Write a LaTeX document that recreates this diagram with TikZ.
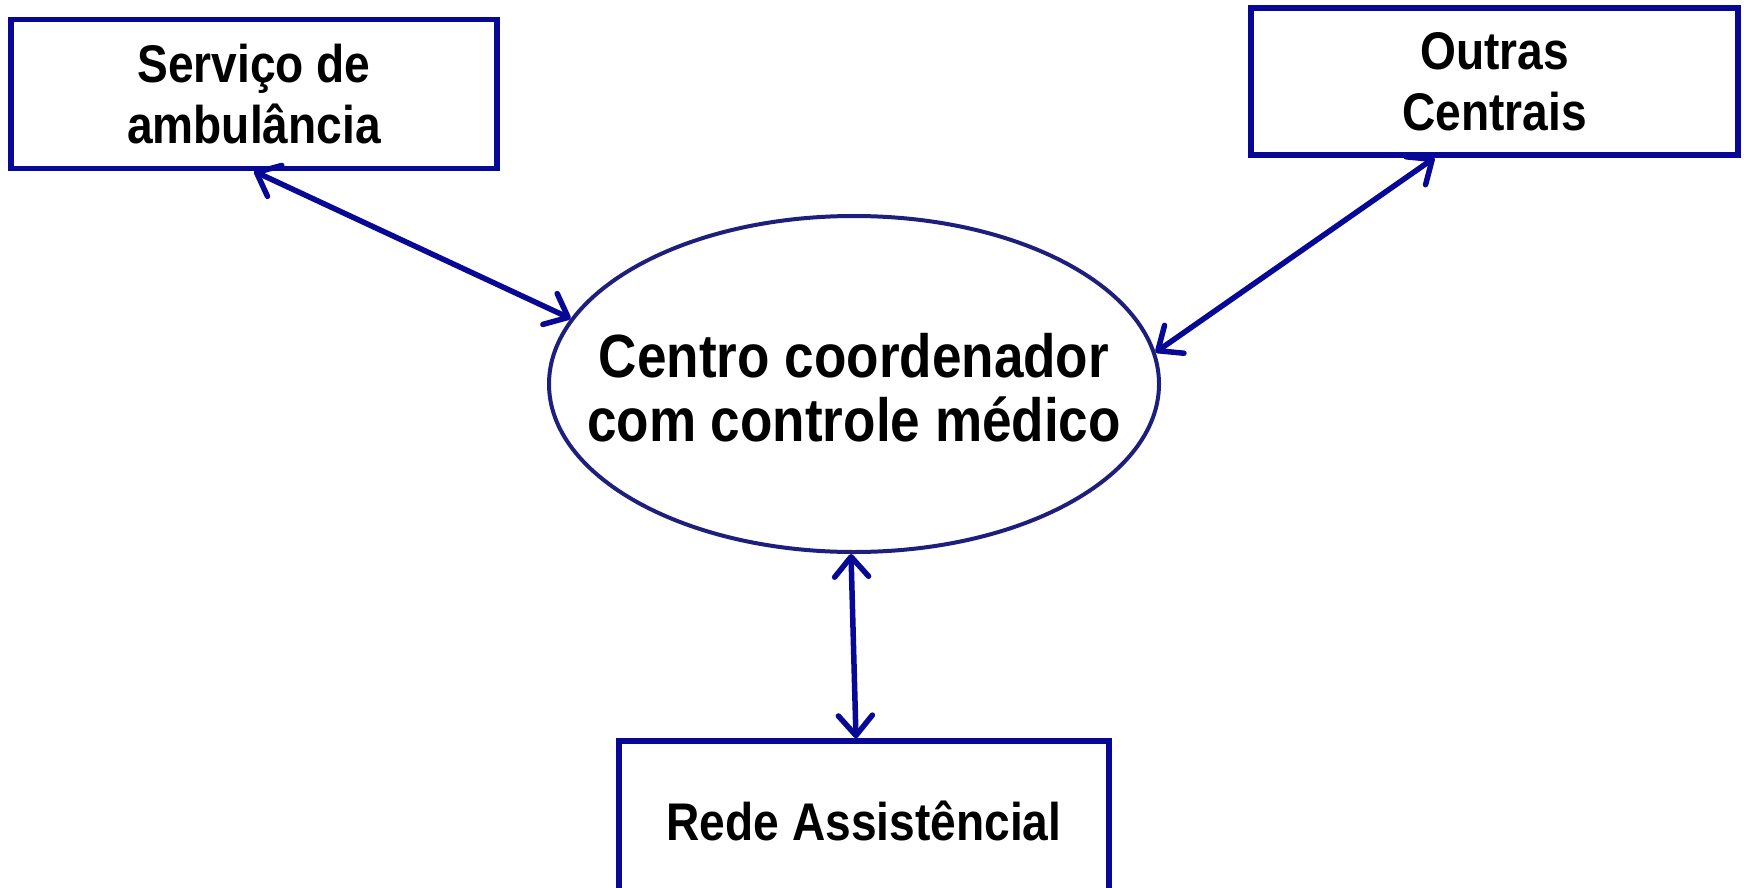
\documentclass[tikz,border=0pt]{standalone}
\usepackage{fontspec}
\setmainfont[FakeStretch=0.87]{Liberation Sans}
\usetikzlibrary{shapes.geometric,arrows.meta}
\definecolor{boxblue}{RGB}{8,8,150}
\definecolor{ellblue}{RGB}{30,30,125}
\begin{document}
\begin{tikzpicture}[x=1pt,y=-1pt,
  box/.style={draw=boxblue, line width=5.5pt, rectangle, inner sep=0pt, align=center,
    font=\fontsize{53}{61}\selectfont\bfseries},
  ellbox/.style={draw=ellblue, line width=4pt, ellipse, inner sep=0pt,
    minimum width=610pt, minimum height=336pt},
  lbl/.style={align=center, inner sep=0pt, font=\fontsize{61}{64}\selectfont\bfseries},
  barb/.tip={Straight Barb[length=20pt,width=34pt,line cap=round,line join=round]},
  conn/.style={draw=boxblue, line width=5.5pt, line cap=round, barb-barb}]
\useasboundingbox (0,0) rectangle (1744,888);
\fill[white] (0,0) rectangle (1744,888);
\node[box, minimum width=486pt, minimum height=149pt] (b1) at (254,94) {Serviço de\\ambulância};
\node[box, minimum width=487pt, minimum height=147pt] (b2) at (1494.5,81.5) {Outras\\Centrais};
\node[box, minimum width=490pt, minimum height=159pt] (b3) at (864,820.5) {Rede Assistêncial};
\node[ellbox] (c) at (854,384) {};
\node[lbl] (ct) at (854,388) {Centro coordenador\\com controle médico};
\draw[conn] (b1.south) -- (c.167.5);
\draw[conn] ([xshift=-60pt]b2.south) -- (c.6.4);
\draw[conn] ([xshift=-3pt]c.south) -- ([xshift=-8pt]b3.north);
\end{tikzpicture}
\end{document}
